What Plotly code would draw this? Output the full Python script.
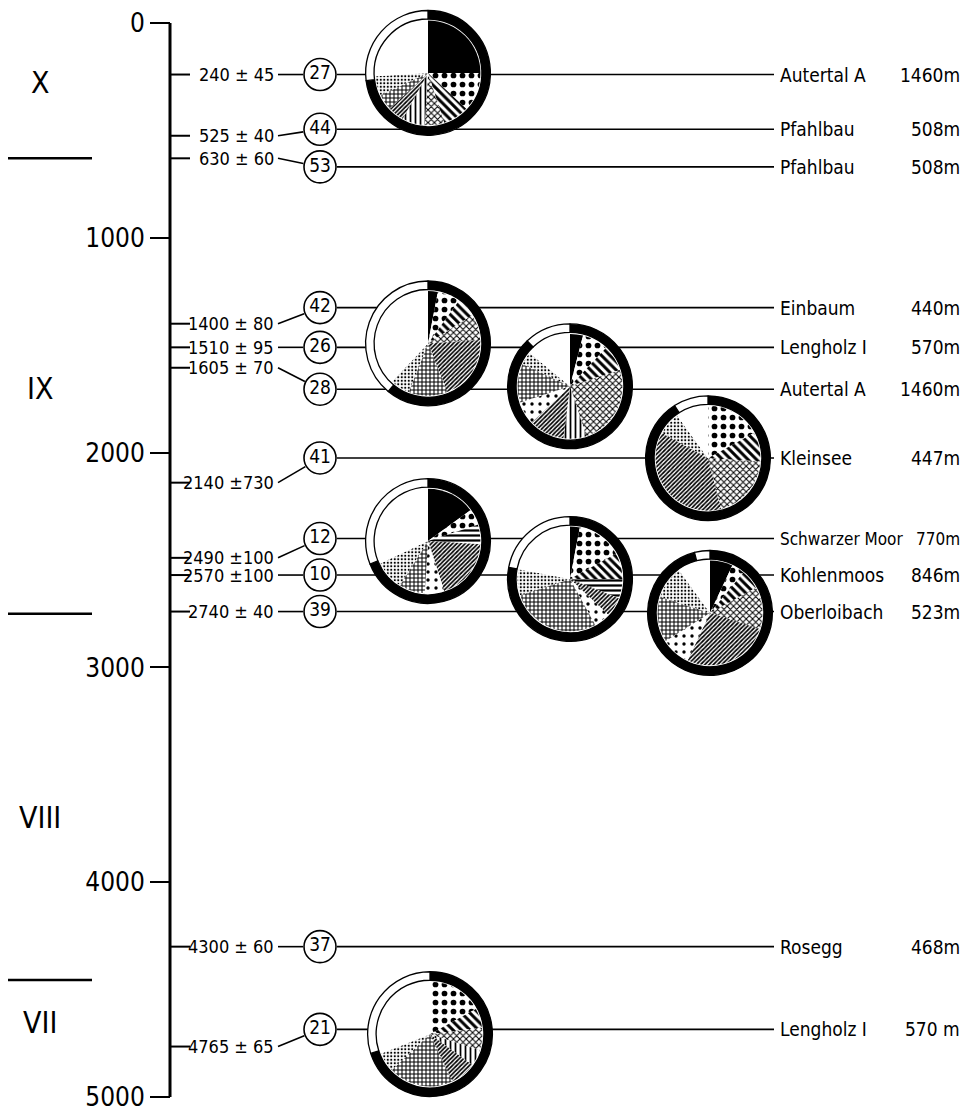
import math
import plotly.graph_objects as go

# ---------------- data ----------------
axis_ticks = [0, 1000, 2000, 3000, 4000, 5000]
dates = [240, 525, 630, 1400, 1510, 1605, 2140, 2490, 2570, 2740, 4300, 4765]
errors = [45, 40, 60, 80, 95, 70, 730, 100, 100, 40, 60, 65]
sample_no = [27, 44, 53, 42, 26, 28, 41, 12, 10, 39, 37, 21]
sites = ["Autertal A", "Pfahlbau", "Pfahlbau", "Einbaum", "Lengholz I", "Autertal A",
         "Kleinsee", "Schwarzer Moor", "Kohlenmoos", "Oberloibach", "Rosegg", "Lengholz I"]
altitudes = ["1460m", "508m", "508m", "440m", "570m", "1460m",
             "447m", "770m", "846m", "523m", "468m", "570 m"]
zones = ["X", "IX", "VIII", "VII"]
zone_bounds = [630, 2750, 4455]

# pollen pie categories (common order, clockwise from 12 o'clock)
categories = ["schwarz", "Grobpunkte", "Schraeg", "Quer", "Zickzack", "Senkrecht",
              "Wellen", "Streupunkte", "Gitter", "Feinpunkte", "weiss"]
pie_27 = [25, 12, 8, 0, 6, 7, 5, 0, 5, 6, 26]
pie_42 = [3, 7, 6, 0, 8, 0, 20, 0, 12, 6, 38]
pie_26 = [4, 8, 8, 0, 25, 7, 11, 7, 12, 4, 14]
pie_41 = [0, 17, 9, 0, 20, 0, 37, 0, 0, 7, 10]
pie_12 = [15, 5, 0, 6, 0, 0, 19, 6, 8, 9, 32]
pie_10 = [3, 14, 8, 6, 0, 0, 6, 5, 28, 8, 22]
pie_39 = [7, 4, 6, 0, 13, 0, 27, 9, 14, 10, 10]
pie_21 = [0, 17, 6, 0, 7, 5, 8, 0, 20, 6, 31]
pies = [pie_27, pie_42, pie_26, pie_41, pie_12, pie_10, pie_39, pie_21]
ring_dark = [73, 61, 88, 91, 69, 78, 96, 70]
ring_light = [27, 39, 12, 9, 31, 22, 4, 30]

# ---------------- layout / style ----------------
OFF = 8                      # page offset of the figure (body margin)
WF, HF = 965, 1105           # figure size
Y0PX, PXU = 21.0, 0.2152     # page pixel of year 0, pixels per year
def val_to_px(v): return Y0PX + v * PXU
def px_to_val(p): return (p - Y0PX) / PXU

AXIS_X = 170
row_pos = [240, 495, 670, 1325, 1510, 1705, 2025, 2400, 2570, 2740, 4300, 4685]
zone_label_pos = [275, 1700, 3700, 4655]
pie_boxes = [(428, 71), (428, 342), (570, 385), (708, 457),
             (428, 540), (570, 578), (710, 612), (430, 1034)]
PIE_R = 62.5
CIRC_X, CIRC_R = 320, 16
FONT = "DejaVu Sans Condensed, DejaVu Sans, sans-serif"
name_size = [19, 19, 19, 19, 19, 19, 19, 17, 19, 19, 19, 19]

pat_shape = ["", ".", "\\", "-", "x", "|", "/", ".", "+", ".", ""]
pat_size = [8, 9, 6, 5, 4.5, 5, 3, 8, 4, 3.5, 8]
pat_solid = [0.3, 0.32, 0.5, 0.45, 0.4, 0.35, 0.55, 0.14, 0.45, 0.3, 0.3]
pat_bg = ["black"] + ["white"] * 10

fig = go.Figure()

# axis line
fig.add_trace(go.Scatter(x=[AXIS_X, AXIS_X], y=[axis_ticks[0], axis_ticks[-1]], mode="lines",
                         line=dict(color="black", width=3), hoverinfo="skip", showlegend=False))

# date ticks on the right of the axis
tx, ty = [], []
for d in dates:
    tx += [AXIS_X, AXIS_X + 20, None]
    ty += [d, d, None]
fig.add_trace(go.Scatter(x=tx, y=ty, mode="lines", line=dict(color="black", width=2),
                         hoverinfo="skip", showlegend=False))

# zone boundary lines
zx, zy = [], []
for b in zone_bounds:
    zx += [5, 92, None]
    zy += [b, b, None]
fig.add_trace(go.Scatter(x=zx, y=zy, mode="lines", line=dict(color="black", width=2.5),
                         hoverinfo="skip", showlegend=False))

# connectors label -> circle, and circle -> site name
cx_, cy_ = [], []
for d, r in zip(dates, row_pos):
    sx, sy = 278, val_to_px(d)
    ex, ey = CIRC_X, val_to_px(r)
    dx, dy = ex - sx, ey - sy
    L = math.hypot(dx, dy)
    px_, py_ = ex - dx / L * (CIRC_R + 1), ey - dy / L * (CIRC_R + 1)
    cx_ += [sx, px_, None]
    cy_ += [d, px_to_val(py_), None]
    cx_ += [CIRC_X + CIRC_R + 1, 774, None]
    cy_ += [r, r, None]
fig.add_trace(go.Scatter(x=cx_, y=cy_, mode="lines", line=dict(color="black", width=1.6),
                         hoverinfo="skip", showlegend=False))

# circled sample numbers
fig.add_trace(go.Scatter(x=[CIRC_X] * len(row_pos), y=row_pos, mode="markers+text",
                         marker=dict(symbol="circle", size=2 * CIRC_R, color="white",
                                     line=dict(color="black", width=1.6)),
                         text=[str(n) for n in sample_no], textposition="middle center",
                         textfont=dict(family=FONT, size=19, color="black"),
                         hoverinfo="skip", showlegend=False))

ann = []
for d, e in zip(dates, errors):
    ann.append(dict(x=276, y=d, xref="x", yref="y", text=f"{d} \u00b1{e:3d}".replace(" ", "\u00a0"),
                    showarrow=False, xanchor="right", yanchor="middle",
                    font=dict(family=FONT, size=18, color="black")))
for r, s, a, fs in zip(row_pos, sites, altitudes, name_size):
    ann.append(dict(x=778, y=r, xref="x", yref="y", text=s, showarrow=False,
                    xanchor="left", yanchor="middle", font=dict(family=FONT, size=fs, color="black")))
    ann.append(dict(x=962, y=r, xref="x", yref="y", text=a, showarrow=False,
                    xanchor="right", yanchor="middle", font=dict(family=FONT, size=fs, color="black")))
for z, p in zip(zones, zone_label_pos):
    ann.append(dict(x=40, y=p, xref="x", yref="y", text=z, showarrow=False,
                    xanchor="center", yanchor="middle", font=dict(family=FONT, size=30, color="black")))

# pies: white backing disk, ring (dark/light), inner pie with patterns
def dom(px, py, R):
    return dict(x=[(px - R - OFF) / WF, (px + R - OFF) / WF],
                y=[1 - (py + R - OFF) / HF, 1 - (py - R - OFF) / HF])

for (px, py), vals, rd, rl in zip(pie_boxes, pies, ring_dark, ring_light):
    fig.add_trace(go.Pie(values=[1], domain=dom(px, py, PIE_R),
                         marker=dict(colors=["white"], line=dict(width=0)),
                         textinfo="none", hoverinfo="skip", showlegend=False, sort=False))
    fig.add_trace(go.Pie(values=[rd, rl], labels=["dunkel", "hell"], domain=dom(px, py, PIE_R),
                         hole=(PIE_R - 8.5) / PIE_R,
                         marker=dict(colors=["black", "white"], line=dict(color="black", width=1.3)),
                         sort=False, direction="clockwise", rotation=0, textinfo="none",
                         hoverinfo="skip", showlegend=False))
    fig.add_trace(go.Pie(values=vals, labels=categories, domain=dom(px, py, PIE_R - 10),
                         marker=dict(colors=pat_bg, line=dict(color="black", width=0),
                                     pattern=dict(shape=pat_shape, size=pat_size, solidity=pat_solid,
                                                  fgcolor="black", bgcolor=pat_bg, fillmode="replace")),
                         sort=False, direction="clockwise", rotation=0, textinfo="none",
                         hoverinfo="skip", showlegend=False))

fig.update_layout(
    width=WF, height=HF, margin=dict(l=0, r=0, t=0, b=0),
    paper_bgcolor="white", plot_bgcolor="white",
    xaxis=dict(range=[OFF, OFF + WF], visible=False, fixedrange=True),
    yaxis=dict(range=[px_to_val(OFF + HF), px_to_val(OFF)], anchor="free",
               position=(AXIS_X - OFF) / WF,
               tickvals=axis_ticks, ticktext=[str(t) for t in axis_ticks],
               ticks="outside", ticklen=20, tickwidth=2.2, tickcolor="black",
               ticklabeloverflow="allow",
               showline=False, showgrid=False, zeroline=False, fixedrange=True,
               tickfont=dict(family=FONT, size=26, color="black")),
    annotations=ann,
    showlegend=False,
)
fig.write_html("out.html")
